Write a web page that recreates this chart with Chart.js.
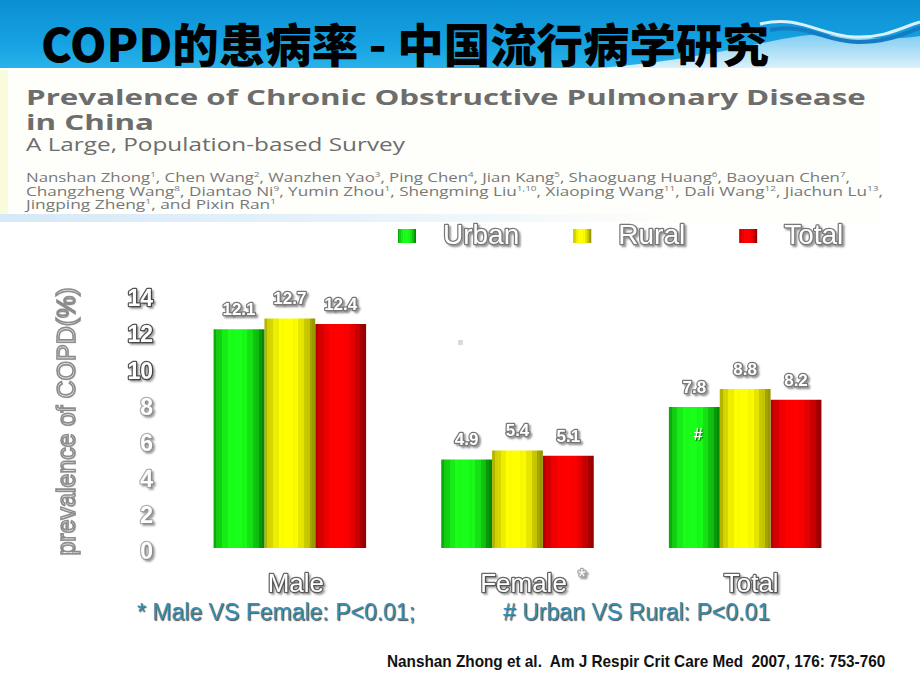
<!DOCTYPE html>
<html>
<head>
<meta charset="utf-8">
<script src="https://cdn.jsdelivr.net/npm/chart.js@4.4.1/dist/chart.umd.min.js"></script>
<style>
  html, body { margin: 0; padding: 0; background: #fff; }
  #slide { position: relative; width: 920px; height: 690px; overflow: hidden; background: #fff;
           font-family: "Liberation Sans", Arial, sans-serif; }
  .banner { position: absolute; left: 0; top: 0; width: 920px; height: 68px;
            background: linear-gradient(#0a8fd3, #16a2e2 65%, #2ab3ea); }
  .paper { position: absolute; left: 0; top: 70px; width: 882px; height: 152px; background: #fefefa; }
  .paper .edge { position: absolute; left: 0; top: 0; width: 8px; height: 152px; background: #fafadc; }
  .paper .foot { position: absolute; left: 0; bottom: 0; width: 882px; height: 8px;
                 background: linear-gradient(to right, #d6e9f7, #e6f2fb 40%, #fefefa 75%); }
  .fit { position: absolute; white-space: nowrap; line-height: 1; transform-origin: 0 50%;
         transform: translateY(-50%); }
  .title { font-family: "Noto Sans CJK SC", sans-serif; font-weight: 900; font-size: 46px; color: #000; }
  .ptitle { font-family: "Open Sans", sans-serif; font-weight: 700; font-size: 21px; color: #6d6d6d; }
  .psub { font-family: "Open Sans", sans-serif; font-size: 18px; color: #6d6d6d; }
  .pauth { font-family: "Open Sans", sans-serif; font-size: 12px; color: #787878; }
  .pauth sup { font-size: 7px; }
  .note { font-size: 23px; color: #3590b4; text-shadow: 1px 1px 1px rgba(0,0,0,0.7); }
  .cite { font-family: "Liberation Sans Narrow", "Liberation Sans", sans-serif; font-weight: 700;
          font-size: 17px; color: #111; }
  canvas { position: absolute; left: 0; top: 0; }
</style>
</head>
<body>
<div id="slide">
  <div class="banner">
    <svg width="920" height="68" style="position:absolute;left:0;top:0">
      <defs>
        <linearGradient id="pale" x1="0" y1="0" x2="0" y2="1">
          <stop offset="0" stop-color="#8fd3f3"/>
          <stop offset="1" stop-color="#eef8fd"/>
        </linearGradient>
      </defs>
      <path d="M 600 68 C 700 60, 760 42, 800 36 C 840 31, 870 44, 920 36 L 920 68 Z" fill="url(#pale)" opacity="0.9"/>
      <path d="M 760 24 C 800 14, 820 36, 855 37 C 885 38, 900 28, 920 22" stroke="#d8f1fc" stroke-width="3" fill="none"/>
      <path d="M 770 30 C 805 22, 825 42, 858 42 C 888 42, 902 34, 920 28" stroke="#137cc2" stroke-width="4" fill="none"/>
    </svg>
    <span class="fit title" data-w="728" style="left:41px;top:42px">COPD的患病率 - 中国流行病学研究</span>
  </div>

  <div class="paper"><div class="edge"></div><div class="foot"></div></div>
  <span class="fit ptitle" data-w="840" style="left:26px;top:97px">Prevalence of Chronic Obstructive Pulmonary Disease</span>
  <span class="fit ptitle" data-w="128" style="left:26px;top:122px">in China</span>
  <span class="fit psub" data-w="379" style="left:26px;top:144px">A Large, Population-based Survey</span>
  <span class="fit pauth" data-w="824" style="left:26px;top:177px">Nanshan Zhong<sup>1</sup>, Chen Wang<sup>2</sup>, Wanzhen Yao<sup>3</sup>, Ping Chen<sup>4</sup>, Jian Kang<sup>5</sup>, Shaoguang Huang<sup>6</sup>, Baoyuan Chen<sup>7</sup>,</span>
  <span class="fit pauth" data-w="857" style="left:26px;top:191px">Changzheng Wang<sup>8</sup>, Diantao Ni<sup>9</sup>, Yumin Zhou<sup>1</sup>, Shengming Liu<sup>1,10</sup>, Xiaoping Wang<sup>11</sup>, Dali Wang<sup>12</sup>, Jiachun Lu<sup>13</sup>,</span>
  <span class="fit pauth" data-w="250" style="left:26px;top:204px">Jingping Zheng<sup>1</sup>, and Pixin Ran<sup>1</sup></span>

  <div style="position:absolute;left:458px;top:340px;width:5px;height:5px;background:#dadada"></div>

  <span class="fit note" data-w="278" style="left:137px;top:612px">* Male VS Female: P&lt;0.01;</span>
  <span class="fit note" data-w="267" style="left:503px;top:612px"># Urban VS Rural: P&lt;0.01</span>
  <span class="fit cite" data-w="498" style="left:387px;top:661px">Nanshan Zhong et al.&nbsp; Am J Respir Crit Care Med&nbsp; 2007, 176: 753-760</span>

  <canvas id="chart" width="920" height="690"></canvas>
</div>

<script>
const categories = ["Male", "Female", "Total"]
const categoryMarks = ["", "*", ""]
const seriesNames = ["Urban", "Rural", "Total"]
const urban = [12.1, 4.9, 7.8]
const rural = [12.7, 5.4, 8.8]
const total = [12.4, 5.1, 8.2]
const urbanMarks = ["", "", "#"]
const yMin = 0
const yMax = 14
const yStep = 2
const yTitle = "prevalence of COPD(%)"

// dark edge / bright centre of each striped bar
const SHADES = [
  { dark: [0, 100, 0],   bright: [25, 255, 25] },
  { dark: [118, 118, 0], bright: [255, 255, 0] },
  { dark: [118, 0, 0],   bright: [255, 0, 0] }
]
const CAT_PCT = 0.67
const FONT = '"Liberation Sans", Arial, sans-serif'

function stripes(ctx, x0, w, shade) {
  const g = ctx.createLinearGradient(x0, 0, x0 + w, 0)
  const n = 18
  for (let i = 0; i < n; i++) {
    const t = (i + 0.5) / n
    const d = Math.min(1, Math.abs(t - 0.45) / 0.56)
    let f = Math.pow(Math.cos(d * Math.PI / 2), 0.8)
    if (i % 2) f = Math.min(1, f + 0.08)
    const c = shade.dark.map((v, k) => Math.round(v + (shade.bright[k] - v) * f))
    const col = `rgb(${c[0]},${c[1]},${c[2]})`
    g.addColorStop(i / n, col)
    g.addColorStop((i + 1) / n, col)
  }
  return g
}

function barFill(c) {
  const shade = SHADES[c.datasetIndex]
  const xs = c.chart.scales.x
  const solid = `rgb(${shade.bright.join(",")})`
  if (c.type !== "data" || !xs || !xs.width) return solid
  const cw = xs.width / categories.length
  const gw = cw * CAT_PCT
  const bw = gw / seriesNames.length
  const left = xs.getPixelForValue(c.dataIndex) - gw / 2 + c.datasetIndex * bw
  return stripes(c.chart.ctx, left, bw, shade)
}

function outlined(ctx, text, x, y, font, stroke, align = "center") {
  ctx.save()
  ctx.font = font
  ctx.textAlign = align
  ctx.textBaseline = "middle"
  ctx.lineJoin = "round"
  ctx.shadowColor = "rgba(0,0,0,0.4)"
  ctx.shadowOffsetX = 2
  ctx.shadowOffsetY = 2
  ctx.shadowBlur = 2
  ctx.lineWidth = 2.5
  ctx.strokeStyle = stroke
  ctx.strokeText(text, x, y)
  ctx.shadowColor = "transparent"
  ctx.fillStyle = "#fff"
  ctx.fillText(text, x, y)
  ctx.restore()
}

// soft shadow behind the axis labels only
const scaleShadow = {
  id: "scaleShadow",
  beforeDraw(chart) {
    const ctx = chart.ctx
    ctx.save()
    ctx.lineJoin = "round"
    ctx.miterLimit = 2
    ctx.shadowColor = "rgba(0,0,0,0.25)"
    ctx.shadowOffsetX = 2
    ctx.shadowOffsetY = 2
    ctx.shadowBlur = 2
  },
  beforeDatasetsDraw(chart) {
    chart.ctx.restore()
  }
}

const decorations = {
  id: "decorations",
  afterDatasetsDraw(chart) {
    const ctx = chart.ctx
    chart.data.datasets.forEach((ds, i) => {
      chart.getDatasetMeta(i).data.forEach((el, j) => {
        outlined(ctx, ds.data[j].toFixed(1), el.x, el.y - 19, `bold 17px ${FONT}`, "#777")
        if (i === 0 && urbanMarks[j]) {
          ctx.save()
          ctx.font = `bold 16px ${FONT}`
          ctx.textAlign = "center"
          ctx.textBaseline = "middle"
          ctx.shadowColor = "rgba(0,0,0,0.6)"
          ctx.shadowOffsetX = 1
          ctx.shadowOffsetY = 1
          ctx.shadowBlur = 1
          ctx.fillStyle = "#fff"
          ctx.fillText(urbanMarks[j], el.x + 4, el.y + 29)
          ctx.restore()
        }
      })
    })
  },
  afterDraw(chart) {
    const ctx = chart.ctx
    const area = chart.chartArea

    // legend
    let x = 398
    const legendFont = `28px ${FONT}`
    chart.data.datasets.forEach((ds, i) => {
      ctx.fillStyle = stripes(ctx, x, 18, SHADES[i])
      ctx.fillRect(x, 229, 18, 14)
      outlined(ctx, ds.label, x + 45, 236, legendFont, "#777", "left")
      ctx.font = legendFont
      x += 18 + 27 + ctx.measureText(ds.label).width + 54
    })

    // y axis title
    ctx.save()
    ctx.translate(68, (area.top + area.bottom) / 2)
    ctx.rotate(-Math.PI / 2)
    ctx.font = `25px ${FONT}`
    ctx.textAlign = "center"
    ctx.textBaseline = "middle"
    ctx.lineWidth = 1.6
    ctx.strokeStyle = "#8c8c8c"
    ctx.shadowColor = "rgba(0,0,0,0.2)"
    ctx.shadowOffsetX = 1
    ctx.shadowOffsetY = 1
    ctx.shadowBlur = 1
    ctx.fillStyle = "#fafafa"
    ctx.fillText(yTitle, 0, 0)
    ctx.shadowColor = "transparent"
    ctx.strokeText(yTitle, 0, 0)
    ctx.restore()

    // superscript marks after category labels
    const xs = chart.scales.x
    categoryMarks.forEach((m, i) => {
      if (!m) return
      ctx.font = `26px ${FONT}`
      const half = ctx.measureText(categories[i]).width / 2
      outlined(ctx, m, xs.getPixelForValue(i) + 6 + half + 15, 577, `20px ${FONT}`, "#aaa")
    })
  }
}

new Chart(document.getElementById("chart"), {
  type: "bar",
  data: {
    labels: categories,
    datasets: [
      { label: seriesNames[0], data: urban, backgroundColor: barFill },
      { label: seriesNames[1], data: rural, backgroundColor: barFill },
      { label: seriesNames[2], data: total, backgroundColor: barFill }
    ]
  },
  options: {
    responsive: false,
    animation: false,
    devicePixelRatio: 1,
    events: [],
    layout: { padding: { left: 0, right: 61, top: 295, bottom: 92 } },
    datasets: {
      bar: { categoryPercentage: CAT_PCT, barPercentage: 1, borderWidth: 0 }
    },
    plugins: {
      colors: { enabled: false },
      legend: { display: false },
      tooltip: { enabled: false }
    },
    scales: {
      x: {
        grid: { display: false, drawTicks: false },
        border: { display: false },
        afterFit: s => { s.height = 50 },
        ticks: {
          padding: 21,
          labelOffset: 6,
          color: "#fff",
          textStrokeColor: "#666",
          textStrokeWidth: 2.5,
          font: { family: FONT, size: 26 }
        }
      },
      y: {
        min: yMin,
        max: yMax,
        grid: { display: false, drawTicks: false },
        border: { display: false },
        afterFit: s => { s.width = 176 },
        ticks: {
          stepSize: yStep,
          padding: 23,
          labelOffset: 5,
          color: "#fff",
          textStrokeColor: c => c.tick.value >= 10 ? "#555" : "#b0b0b0",
          textStrokeWidth: 2.5,
          font: { family: FONT, size: 23, weight: "bold" }
        }
      }
    }
  },
  plugins: [scaleShadow, decorations]
})

document.fonts.ready.then(() => {
  document.querySelectorAll("[data-w]").forEach(el => {
    const w = el.getBoundingClientRect().width
    el.style.transform = `translateY(-50%) scaleX(${(+el.dataset.w / w).toFixed(3)})`
  })
})
</script>
</body>
</html>
